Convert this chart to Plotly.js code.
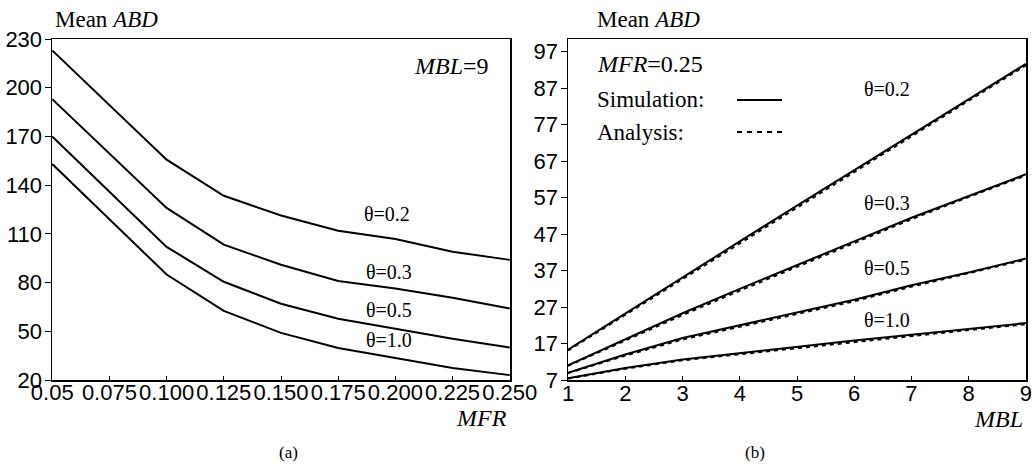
<!DOCTYPE html>
<html>
<head>
<meta charset="utf-8">
<script src="https://cdn.plot.ly/plotly-3.0.1.min.js"></script>
<style>html,body{margin:0;padding:0;background:#fff;}#chart{width:1034px;height:473px;}</style>
</head>
<body>
<div id="chart"></div>
<script>
// ---- Panel (a): Mean ABD vs MFR, MBL = 9 ----
const mfr = [0.05, 0.1, 0.125, 0.15, 0.175, 0.2, 0.225, 0.25];
const a_theta02 = [223, 155.7, 133.5, 121.3, 112, 106.9, 99, 94];
const a_theta03 = [193, 126, 103.4, 91, 81, 76.4, 70.6, 64];
const a_theta05 = [170, 102, 80.5, 67, 57.7, 51.5, 45.4, 40];
const a_theta10 = [153, 85, 62.6, 49, 39.7, 33.5, 27.4, 23];
const aTickVals = [0.05, 0.075, 0.1, 0.125, 0.15, 0.175, 0.2, 0.225, 0.25];
const aTickText = ["0.05", "0.075", "0.100", "0.125", "0.150", "0.175", "0.200", "0.225", "0.250"];
const aYTicks = [20, 50, 80, 110, 140, 170, 200, 230];

// ---- Panel (b): Mean ABD vs MBL, MFR = 0.25 ----
const mbl = [1, 2, 3, 4, 5, 6, 7, 8, 9];
const sim_theta02 = [15.3, 25.2, 35.3, 45, 54.8, 64.5, 74.3, 84, 93.7];
const sim_theta03 = [11, 18.2, 25.3, 32, 38.4, 45, 51.5, 57.5, 63.4];
const sim_theta05 = [9, 14, 18.5, 22, 25.3, 29, 33, 36.5, 40.3];
const sim_theta10 = [7.5, 10.3, 12.6, 14.4, 16, 17.8, 19.4, 21, 22.6];
const ana_theta02 = [15.1, 24.9, 34.6, 44.5, 54.4, 64.1, 73.9, 83.6, 93.3];
const ana_theta03 = [10.9, 17.9, 24.8, 31.5, 38, 44.6, 51.1, 57.2, 63.1];
const ana_theta05 = [8.9, 13.7, 18.1, 21.6, 25, 28.6, 32.6, 36.2, 40];
const ana_theta10 = [7.4, 10.1, 12.4, 14.1, 15.7, 17.4, 19.1, 20.7, 22.3];
const bYTicks = [7, 17, 27, 37, 47, 57, 67, 77, 87, 97];

const W = 1034, H = 473;
const px = x => x / W, py = y => 1 - y / H;
const SERIF = "Liberation Serif, Times New Roman, serif";
const SANS = "Liberation Sans, Arial, sans-serif";

function solid(x, y, xa, ya) {
  return {x: x, y: y, xaxis: xa, yaxis: ya, mode: "lines", type: "scatter",
          line: {color: "#000", width: 2}, hoverinfo: "skip", showlegend: false};
}
function dashed(x, y, xa, ya) {
  return {x: x, y: y, xaxis: xa, yaxis: ya, mode: "lines", type: "scatter",
          line: {color: "#000", width: 2, dash: "4px,4px"}, hoverinfo: "skip", showlegend: false};
}

const data = [
  solid(mfr, a_theta02, "x", "y"), solid(mfr, a_theta03, "x", "y"),
  solid(mfr, a_theta05, "x", "y"), solid(mfr, a_theta10, "x", "y"),
  dashed(mbl, ana_theta02, "x2", "y2"), dashed(mbl, ana_theta03, "x2", "y2"),
  dashed(mbl, ana_theta05, "x2", "y2"), dashed(mbl, ana_theta10, "x2", "y2"),
  solid(mbl, sim_theta02, "x2", "y2"), solid(mbl, sim_theta03, "x2", "y2"),
  solid(mbl, sim_theta05, "x2", "y2"), solid(mbl, sim_theta10, "x2", "y2")
];

const axBase = {showline: true, mirror: true, linecolor: "#000", linewidth: 1.5,
  showgrid: false, zeroline: false, tickcolor: "#000", ticklabeloverflow: "allow",
  tickfont: {family: SANS, size: 22, color: "#000"}};

const yDom = [py(380), py(39)];
const layout = {
  width: W, height: H,
  margin: {l: 0, r: 0, t: 0, b: 0},
  paper_bgcolor: "#fff", plot_bgcolor: "#fff",
  showlegend: false,
  xaxis: Object.assign({}, axBase, {domain: [px(52), px(510)], range: [0.0499, 0.2501],
    tickmode: "array", tickvals: aTickVals, ticktext: aTickText, ticks: "inside", ticklen: 4,
    ticklabelstandoff: -8, anchor: "y"}),
  yaxis: Object.assign({}, axBase, {domain: yDom, range: [20, 230.05],
    tickmode: "array", tickvals: aYTicks, ticks: "outside", ticklen: 6, ticklabelstandoff: -2, anchor: "x"}),
  xaxis2: Object.assign({}, axBase, {domain: [px(568), px(1026)], range: [0.999, 9.001],
    tickmode: "array", tickvals: mbl, ticks: "inside", ticklen: 4, ticklabelstandoff: -7, anchor: "y2"}),
  yaxis2: Object.assign({}, axBase, {domain: yDom, range: [7, 100.5],
    tickmode: "array", tickvals: bYTicks, ticks: "outside", ticklen: 6, ticklabelstandoff: -2, anchor: "x2"}),
  annotations: [],
  shapes: []
};

function ann(text, x, y, size, xanchor) {
  layout.annotations.push({text: text, x: px(x), y: py(y), xref: "paper", yref: "paper",
    showarrow: false, xanchor: xanchor || "left", yanchor: "middle",
    font: {family: SERIF, size: size, color: "#000"}});
}
// Panel titles / axis labels
ann("Mean <i>ABD</i>", 53, 19, 23);
ann("Mean <i>ABD</i>", 595, 19, 23);
ann("<i>MFR</i>", 509, 418, 24, "right");
ann("<i>MBL</i>", 1025, 419, 24, "right");
ann("(a)", 288, 452, 17, "center");
ann("(b)", 755, 452, 17, "center");
// Panel (a) notes
ann("<i>MBL</i>=9", 491, 66, 24, "right");
ann("θ=0.2", 362, 214, 20);
ann("θ=0.3", 364, 272, 20);
ann("θ=0.5", 364, 310, 20);
ann("θ=1.0", 364, 340, 20);
// Panel (b) notes
ann("<i>MFR</i>=0.25", 595, 64, 24);
ann("Simulation:", 595, 100, 23);
ann("Analysis:", 595, 132, 23);
ann("θ=0.2", 862, 89, 20);
ann("θ=0.3", 862, 203, 20);
ann("θ=0.5", 862, 268, 20);
ann("θ=1.0", 862, 320, 20);
// Legend line samples
layout.shapes.push({type: "line", xref: "paper", yref: "paper", x0: px(737), x1: px(782),
  y0: py(100), y1: py(100), line: {color: "#000", width: 2}});
layout.shapes.push({type: "line", xref: "paper", yref: "paper", x0: px(737), x1: px(782),
  y0: py(132), y1: py(132), line: {color: "#000", width: 2, dash: "5px,5px"}});

Plotly.newPlot("chart", data, layout, {staticPlot: true, displayModeBar: false});
</script>
</body>
</html>
